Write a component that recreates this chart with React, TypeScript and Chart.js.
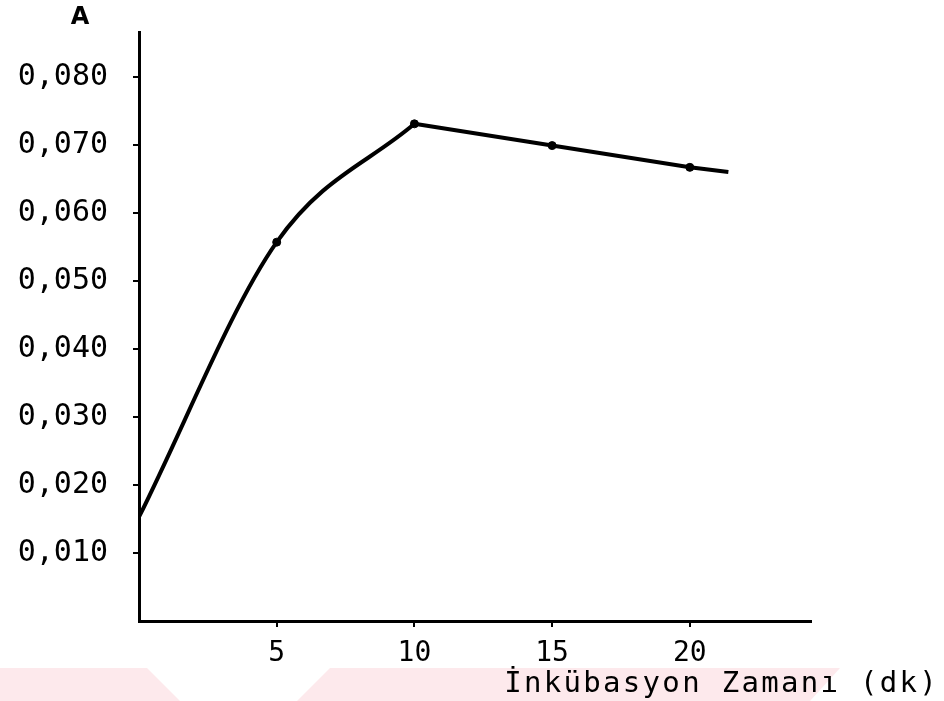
import React, { useEffect, useRef } from "react";
import { Chart, registerables } from "chart.js";

Chart.register(...registerables);

// Incubation time (min); last entry is where the drawn line ends
const timeMin = [0, 5, 10, 15, 20, 21.4];
// Absorbance (A)
const absorbance = [0.0153, 0.0557, 0.0731, 0.0699, 0.0667, 0.066];
// Which readings carry a plotted dot
const markedIdx = [1, 2, 3, 4];

const xTicks = [5, 10, 15, 20];
const yTicks = [0.01, 0.02, 0.03, 0.04, 0.05, 0.06, 0.07, 0.08];
const xMax = 24.4;
const yMax = 0.0866;

const yAxisTitle = "A";
const xAxisTitle = "İnkübasyon Zamanı (dk)";

const MONO = "'DejaVu Sans Mono', monospace";

const toPts = (idx: number[]) => idx.map((i) => ({ x: timeMin[i], y: absorbance[i] }));

const decor = {
  id: "decor",
  beforeDraw(chart: any) {
    const { ctx } = chart;
    ctx.save();
    ctx.fillStyle = "#ffffff";
    ctx.fillRect(0, 0, chart.width, chart.height);
    // faint watermark bands at the bottom
    ctx.fillStyle = "#fde9ec";
    const polys = [
      [[0, 668], [147, 668], [180, 701], [0, 701]],
      [[330, 668], [840, 668], [810, 701], [297, 701]],
    ];
    for (const p of polys) {
      ctx.beginPath();
      ctx.moveTo(p[0][0], p[0][1]);
      for (let i = 1; i < p.length; i++) ctx.lineTo(p[i][0], p[i][1]);
      ctx.closePath();
      ctx.fill();
    }
    ctx.restore();
  },
  afterDraw(chart: any) {
    const { ctx, chartArea } = chart;
    ctx.save();
    ctx.fillStyle = "#000";
    ctx.font = "bold 24px 'DejaVu Sans', sans-serif";
    ctx.textAlign = "center";
    ctx.textBaseline = "middle";
    ctx.fillText(yAxisTitle, chartArea.left - 59, chartArea.top - 14);
    ctx.font = "29px " + MONO;
    (ctx as any).letterSpacing = "2.3px";
    ctx.textAlign = "right";
    ctx.textBaseline = "alphabetic";
    ctx.fillText(xAxisTitle, chartArea.right + 128, chartArea.bottom + 71);
    ctx.restore();
  },
};

export default function App() {
  const ref = useRef<HTMLCanvasElement | null>(null);
  useEffect(() => {
    document.body.style.margin = "0";
    const canvas = ref.current!;
    const chart = new Chart(canvas, {
      type: "line",
      data: {
        datasets: [
          {
            data: toPts([0, 1, 2]),
            borderColor: "#000",
            borderWidth: 4,
            cubicInterpolationMode: "monotone",
            pointRadius: 0,
            fill: false,
          },
          {
            data: toPts([2, 3, 4, 5]),
            borderColor: "#000",
            borderWidth: 4,
            tension: 0,
            pointRadius: 0,
            fill: false,
          },
          {
            data: toPts(markedIdx),
            showLine: false,
            pointRadius: 4,
            pointBackgroundColor: "#000",
            pointBorderColor: "#000",
          },
        ],
      },
      plugins: [decor],
      options: {
        responsive: false,
        animation: false,
        layout: { padding: { left: 0, top: 32, right: 133, bottom: 0 } },
        plugins: { legend: { display: false }, tooltip: { enabled: false }, title: { display: false } },
        scales: {
          x: {
            type: "linear",
            min: 0,
            max: xMax,
            afterBuildTicks: (s: any) => {
              s.ticks = xTicks.map((v) => ({ value: v }));
            },
            afterFit: (s: any) => {
              s.height = 80;
              s.paddingLeft = 0;
              s.paddingRight = 0;
            },
            border: { display: true, color: "#000", width: 3 },
            grid: { drawOnChartArea: false, drawTicks: true, tickLength: 6, lineWidth: 2, color: "#000" },
            ticks: {
              color: "#000",
              font: { family: MONO, size: 28 },
              padding: 10,
              maxRotation: 0,
              callback: (v: any) => String(v),
            },
          },
          y: {
            type: "linear",
            min: 0,
            max: yMax,
            afterBuildTicks: (s: any) => {
              s.ticks = yTicks.map((v) => ({ value: v }));
            },
            afterFit: (s: any) => {
              s.width = 139;
              s.paddingTop = 0;
              s.paddingBottom = 0;
            },
            border: { display: true, color: "#000", width: 3 },
            grid: { drawOnChartArea: false, drawTicks: true, tickLength: 6, lineWidth: 2, color: "#000" },
            ticks: {
              color: "#000",
              font: { family: MONO, size: 30 },
              padding: 25,
              callback: (v: any) => Number(v).toFixed(3).replace(".", ","),
            },
          },
        },
      },
    });
    return () => chart.destroy();
  }, []);
  return <canvas ref={ref} width={944} height={701} style={{ display: "block" }} />;
}
